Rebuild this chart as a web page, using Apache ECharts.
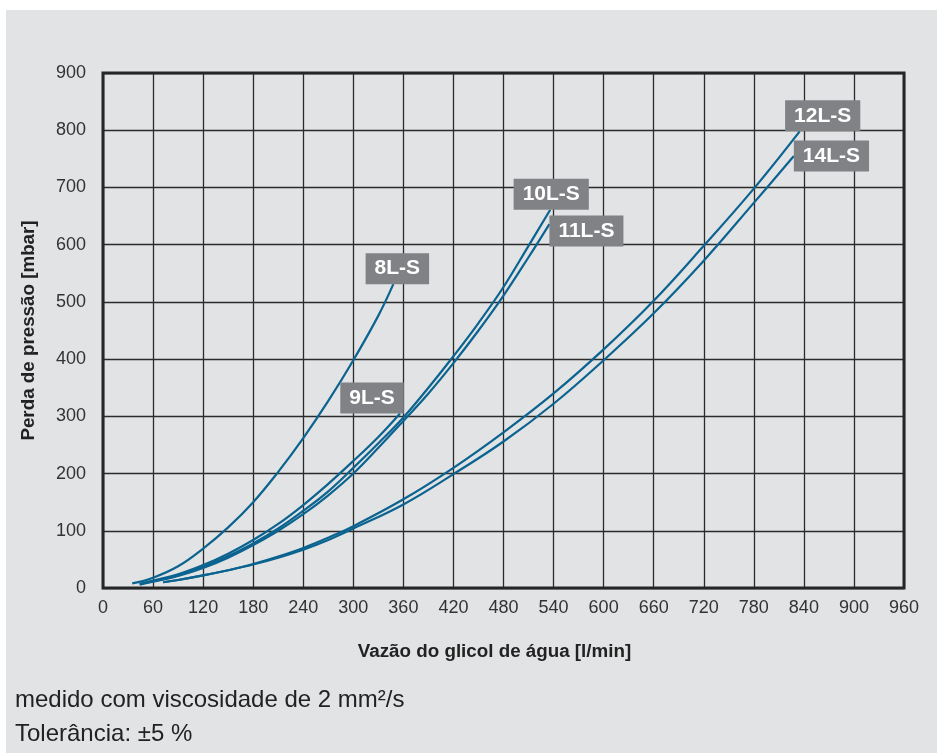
<!DOCTYPE html>
<html>
<head>
<meta charset="utf-8">
<script src="https://cdn.jsdelivr.net/npm/echarts@6/dist/echarts.min.js"></script>
<style>
  html, body { margin: 0; padding: 0; background: #ffffff; }
  #chart { width: 937px; height: 753px; }
</style>
</head>
<body>
<div id="chart"></div>
<script>
// Pressure loss curves per valve size: flow [l/min] and loss [mbar]
const flow8  = [35, 60, 90, 120, 150, 180, 210, 240, 270, 300, 330, 348];
const loss8  = [8, 18, 38, 69, 106, 150, 203, 262, 327, 398, 476, 531];

const flow9  = [44, 60, 90, 120, 150, 180, 210, 240, 270, 300, 330, 356];
const loss9  = [7, 13, 24, 40, 60, 84, 112, 145, 182, 222, 264, 305];

const flow10 = [44, 60, 90, 120, 150, 180, 210, 240, 270, 300, 330, 360, 390, 420, 450, 480, 510, 536];
const loss10 = [7, 12, 22, 37, 56, 78, 104, 135, 169, 210, 253, 298, 350, 405, 463, 526, 598, 661];

const flow11 = [44, 60, 90, 120, 150, 180, 210, 240, 270, 300, 330, 360, 390, 420, 450, 480, 510, 535];
const loss11 = [6, 11, 21, 35, 53, 75, 100, 129, 162, 200, 245, 292, 340, 393, 450, 511, 578, 636];

const flow12 = [72, 90, 120, 150, 180, 210, 240, 270, 300, 360, 420, 480, 540, 600, 660, 720, 780, 835];
const loss12 = [10, 14, 22, 31, 42, 55, 70, 88, 108, 155, 210, 272, 340, 417, 502, 598, 698, 798];

const flow14 = [72, 90, 120, 150, 180, 210, 240, 270, 300, 360, 420, 480, 540, 600, 660, 720, 780, 828];
const loss14 = [10, 14, 22, 31, 41, 53, 67, 84, 104, 146, 199, 256, 322, 398, 480, 572, 673, 755];

const curveNames = ['8L-S', '9L-S', '10L-S', '11L-S', '12L-S', '14L-S'];
const xTicks = [0, 60, 120, 180, 240, 300, 360, 420, 480, 540, 600, 660, 720, 780, 840, 900, 960];
const yTicks = [0, 100, 200, 300, 400, 500, 600, 700, 800, 900];

const curveColor = '#0b6390';
const tagStyle = {
  show: true,
  color: '#ffffff',
  fontFamily: 'Liberation Sans, Arial, sans-serif',
  fontWeight: 'bold',
  fontSize: 21,
  lineHeight: 21,
  backgroundColor: '#808285',
  padding: [5, 9, 5, 9],
  distance: 0
};

// where each curve's name tag sits relative to the curve end
const tagPlacement = [
  { position: 'top', offset: [4, 0] },
  { position: 'top', offset: [-28, 0] },
  { position: 'top', offset: [1, 0] },
  { position: 'right', offset: [0, 7] },
  { position: 'top', offset: [23, 0] },
  { position: 'right', offset: [0, 0] }
];

function buildCurve(idx, flows, losses) {
  const pts = flows.map((f, i) => {
    const p = [f, losses[i]];
    if (i === flows.length - 1) {
      return {
        value: p,
        label: Object.assign({ formatter: curveNames[idx] }, tagStyle, tagPlacement[idx])
      };
    }
    return { value: p };
  });
  return {
    name: curveNames[idx],
    type: 'line',
    data: pts,
    smooth: 0.4,
    symbol: 'circle',
    symbolSize: 0,
    showSymbol: true,
    showAllSymbol: true,
    lineStyle: { color: curveColor, width: 2.2 },
    itemStyle: { color: curveColor },
    label: { show: false },
    emphasis: { disabled: true },
    z: 3
  };
}

const chart = echarts.init(document.getElementById('chart'), null, { renderer: 'canvas' });

const option = {
  animation: false,
  backgroundColor: 'transparent',
  graphic: [
    {
      type: 'rect',
      left: 6, top: 10,
      shape: { width: 931, height: 743 },
      style: { fill: '#e2e3e5' },
      z: -10, silent: true
    },
    {
      type: 'text',
      left: 15, top: 688,
      style: {
        text: 'medido com viscosidade de 2 mm²/s',
        fill: '#222222',
        font: '24px "Liberation Sans", Arial, sans-serif'
      },
      silent: true
    },
    {
      type: 'text',
      left: 15, top: 722,
      style: {
        text: 'Tolerância: ±5 %',
        fill: '#222222',
        font: '24px "Liberation Sans", Arial, sans-serif'
      },
      silent: true
    }
  ],
  grid: {
    left: 103, right: 33, top: 73, bottom: 165,
    containLabel: false,
    outerBoundsMode: 'none',
    show: true,
    backgroundColor: 'transparent',
    borderColor: '#262626',
    borderWidth: 3,
    z: 4
  },
  xAxis: {
    type: 'value',
    min: 0, max: 960, interval: 60,
    name: 'Vazão do glicol de água [l/min]',
    nameLocation: 'middle',
    nameGap: 54,
    nameTextStyle: {
      fontFamily: 'Liberation Sans, Arial, sans-serif',
      fontWeight: 'bold', fontSize: 18.8, color: '#222222',
      padding: [0, 18, 0, 0]
    },
    axisLine: { show: false },
    axisTick: { show: false },
    axisLabel: {
      margin: 11,
      fontFamily: 'Liberation Sans, Arial, sans-serif',
      fontSize: 18, color: '#333333',
      formatter: v => (xTicks.indexOf(v) >= 0 ? String(v) : '')
    },
    splitLine: { show: true, lineStyle: { color: '#2b2b2b', width: 1.3 } }
  },
  yAxis: {
    type: 'value',
    min: 0, max: 900, interval: 100,
    name: 'Perda de pressão [mbar]',
    nameLocation: 'middle',
    nameGap: 65,
    nameTextStyle: {
      fontFamily: 'Liberation Sans, Arial, sans-serif',
      fontWeight: 'bold', fontSize: 18.8, color: '#222222'
    },
    axisLine: { show: false },
    axisTick: { show: false },
    axisLabel: {
      margin: 17,
      fontFamily: 'Liberation Sans, Arial, sans-serif',
      fontSize: 18, color: '#333333',
      formatter: v => (yTicks.indexOf(v) >= 0 ? String(v) : '')
    },
    splitLine: { show: true, lineStyle: { color: '#2b2b2b', width: 1.3 } }
  },
  series: [
    buildCurve(0, flow8, loss8),
    buildCurve(1, flow9, loss9),
    buildCurve(2, flow10, loss10),
    buildCurve(3, flow11, loss11),
    buildCurve(4, flow12, loss12),
    buildCurve(5, flow14, loss14)
  ]
};

chart.setOption(option);
</script>
</body>
</html>
